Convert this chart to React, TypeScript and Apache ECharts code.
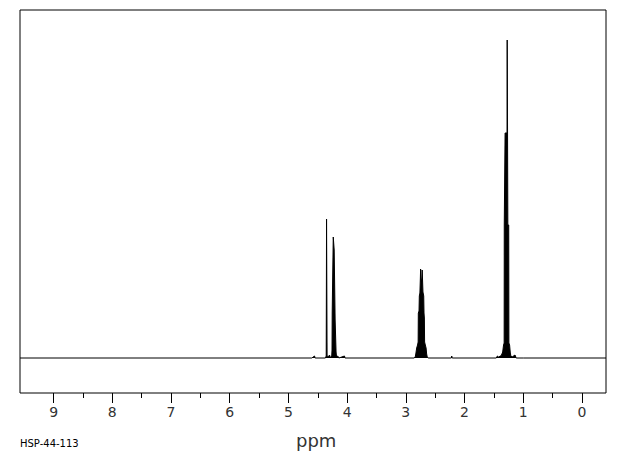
import React, { useEffect, useRef } from "react";
import * as echarts from "echarts";

// Chemical shift range (ppm) and intensity range shown
const X_RANGE = [-0.41, 9.572];
const Y_RANGE = [-35, 348];

// Tick values (ppm)
const majorTicks = [0, 1, 2, 3, 4, 5, 6, 7, 8, 9];
const minorTicks = [0.5, 1.5, 2.5, 3.5, 4.5, 5.5, 6.5, 7.5, 8.5];

// Spectrum outline: [ppm, intensity]
const baselineLeft: [number, number][] = [
  [9.572, 0],
  [4.6, 0],
  [4.555, 2],
  [4.545, 0],
];

const groupA: [number, number][] = [
  [4.37, 0],
  [4.356, 2],
  [4.35, 139],
  [4.347, 139],
  [4.341, 2],
  [4.32, 1],
  [4.3, 3],
  [4.28, 0],
  [4.262, 2],
  [4.257, 8],
  [4.254, 45],
  [4.245, 45],
  [4.236, 121],
  [4.229, 121],
  [4.22, 108],
  [4.211, 108],
  [4.204, 38],
  [4.192, 38],
  [4.188, 6],
  [4.18, 1],
  [4.16, 2],
  [4.14, 0],
  [4.045, 2],
  [4.035, 0],
];

const groupB: [number, number][] = [
  [2.86, 0],
  [2.84, 1],
  [2.83, 4],
  [2.815, 10],
  [2.8, 13],
  [2.79, 16],
  [2.787, 45],
  [2.775, 47],
  [2.77, 62],
  [2.76, 65],
  [2.752, 80],
  [2.748, 89],
  [2.744, 89],
  [2.735, 76],
  [2.724, 80],
  [2.721, 88],
  [2.717, 88],
  [2.708, 66],
  [2.695, 62],
  [2.69, 45],
  [2.684, 40],
  [2.68, 16],
  [2.668, 13],
  [2.655, 10],
  [2.645, 4],
  [2.635, 1],
  [2.62, 0],
  [2.225, 0],
  [2.218, 2],
  [2.21, 0],
];

const groupC: [number, number][] = [
  [1.46, 0],
  [1.44, 2],
  [1.42, 1],
  [1.39, 2],
  [1.37, 3],
  [1.35, 6],
  [1.335, 13],
  [1.325, 15],
  [1.323, 133],
  [1.311, 133],
  [1.309, 225],
  [1.276, 225],
  [1.273, 318],
  [1.27, 318],
  [1.267, 225],
  [1.264, 225],
  [1.262, 133],
  [1.247, 133],
  [1.244, 15],
  [1.232, 13],
  [1.22, 5],
  [1.21, 2],
  [1.19, 1],
  [1.14, 3],
  [1.12, 0],
];

const baselineRight: [number, number][] = [
  [1.0, 0],
  [-0.41, 0],
];

const spectrum = [...baselineLeft, ...groupA, ...groupB, ...groupC, ...baselineRight];

export default function App() {
  const ref = useRef<HTMLDivElement>(null);
  useEffect(() => {
    if (!ref.current) return;
    const chart = echarts.init(ref.current, null, { renderer: "svg" });
    const axisCommon = {
      type: "value" as const,
      min: X_RANGE[0],
      max: X_RANGE[1],
      inverse: true,
      position: "bottom" as const,
      splitLine: { show: false },
      axisLine: { show: false, onZero: false },
    };
    chart.setOption({
      animation: false,
      backgroundColor: "#fff",
      grid: {
        left: 20,
        right: 14,
        top: 10,
        bottom: 62,
        show: true,
        borderColor: "#000",
        borderWidth: 1,
        containLabel: false,
      },
      xAxis: [
        {
          ...axisCommon,
          axisTick: {
            show: true,
            length: 10,
            customValues: majorTicks,
            lineStyle: { color: "#000", width: 1 },
          },
          axisLabel: {
            show: true,
            customValues: majorTicks,
            margin: 12,
            color: "#333",
            fontSize: 14,
            fontFamily: "DejaVu Sans",
          },
        },
        {
          ...axisCommon,
          axisTick: {
            show: true,
            length: 5,
            customValues: minorTicks,
            lineStyle: { color: "#000", width: 1 },
          },
          axisLabel: { show: false },
        },
      ],
      yAxis: {
        type: "value",
        min: Y_RANGE[0],
        max: Y_RANGE[1],
        show: false,
        splitLine: { show: false },
      },
      graphic: [
        {
          type: "text",
          left: 296,
          top: 431,
          style: { text: "ppm", fontSize: 18, fill: "#333", fontFamily: "DejaVu Sans" },
        },
        {
          type: "text",
          left: 20,
          top: 438,
          style: { text: "HSP-44-113", fontSize: 10, fill: "#000", fontFamily: "DejaVu Sans" },
        },
      ],
      series: [
        {
          type: "line",
          xAxisIndex: 0,
          data: spectrum,
          showSymbol: false,
          symbol: "none",
          lineStyle: { color: "#000", width: 1 },
          areaStyle: { color: "#000", opacity: 1, origin: "auto" },
          silent: true,
        },
      ],
    });
    return () => chart.dispose();
  }, []);
  return (
    <div
      ref={ref}
      style={{ position: "absolute", left: 0, top: 0, width: 620, height: 455 }}
    />
  );
}
